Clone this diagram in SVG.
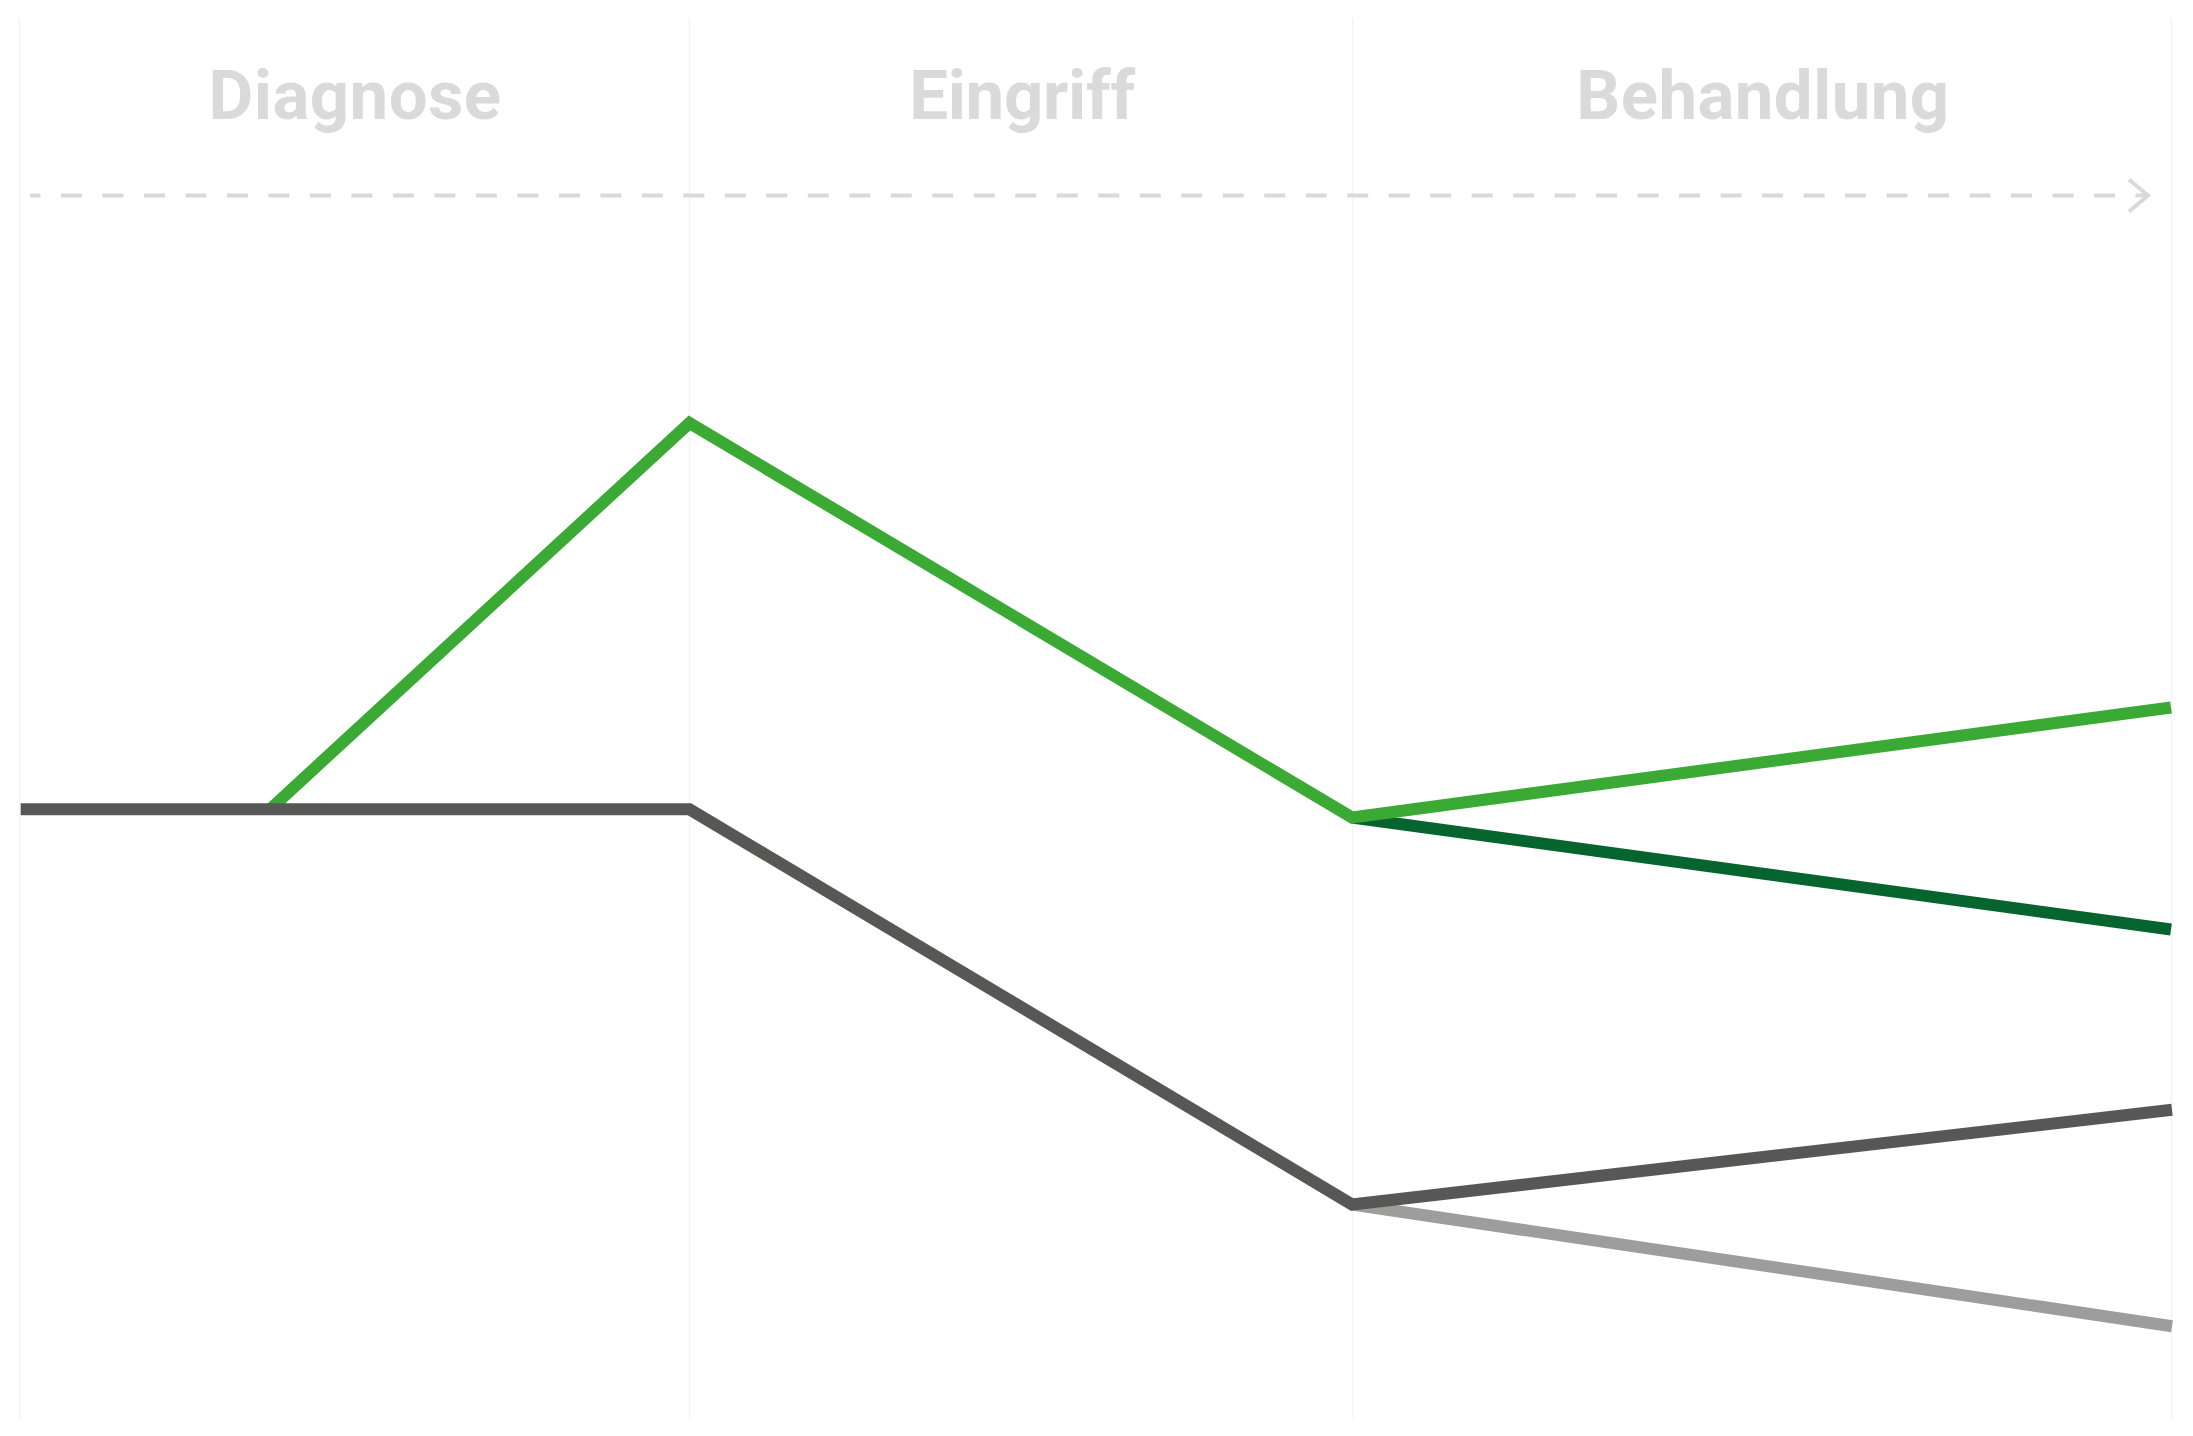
<svg xmlns="http://www.w3.org/2000/svg" width="2193" height="1436" viewBox="0 0 2193 1436">
  <style>
    .divider { stroke: #f3f3f3; stroke-width: 1.5; fill: none; }
    .label { font-family: Roboto, "Liberation Sans", Arial, sans-serif; font-weight: bold; font-size: 69px; fill: #dadada; text-anchor: middle; }
    .timeline { stroke: #d9d9d9; stroke-width: 4; fill: none; stroke-dasharray: 21 20.49; stroke-dashoffset: 10.5; }
    .path { fill: none; stroke-width: 12; stroke-linecap: butt; stroke-linejoin: miter; stroke-miterlimit: 10; }
    .green { stroke: #3aaa35; }
    .darkgreen { stroke: #06652f; }
    .gray { stroke: #575756; }
    .lightgray { stroke: #9d9d9c; }
  </style>
  <defs>
    <marker id="chevron" markerUnits="userSpaceOnUse" viewBox="-24 -20 28 40" refX="0" refY="0" markerWidth="28" markerHeight="40" orient="auto" overflow="visible">
      <path d="M-19,-16 L0,0 L-19,16" fill="none" stroke="#d9d9d9" stroke-width="4" stroke-dasharray="none" stroke-linejoin="miter"/>
    </marker>
  </defs>
  <rect width="2193" height="1436" fill="#ffffff"/>
  <g id="dividers">
    <line class="divider" x1="19.5" y1="18" x2="19.5" y2="1418"/>
    <line class="divider" x1="689.5" y1="18" x2="689.5" y2="1418"/>
    <line class="divider" x1="1352.5" y1="18" x2="1352.5" y2="1418"/>
    <line class="divider" x1="2171.5" y1="18" x2="2171.5" y2="1418"/>
  </g>
  <g id="phase-diagnose">
    <text class="label" x="355" y="119.3" letter-spacing="0.4">Diagnose</text>
  </g>
  <g id="phase-eingriff">
    <text class="label" x="1022" y="119.3" letter-spacing="-0.3">Eingriff</text>
  </g>
  <g id="phase-behandlung">
    <text class="label" x="1763" y="119.3" letter-spacing="0.4">Behandlung</text>
  </g>
  <g id="connectors">
    <line id="timeline" class="timeline" x1="30" y1="195.5" x2="2148" y2="195.5" marker-end="url(#chevron)"/>
    <polyline id="darkgreen-branch" class="path darkgreen" points="1352,817.5 2171,929.5"/>
    <polyline id="green-path" class="path green" points="270,809.3 689.5,423 1352,817.5 2171,707.5"/>
    <polyline id="lightgray-branch" class="path lightgray" points="1352,1204.5 2172,1326.2"/>
    <polyline id="gray-path" class="path gray" points="20.7,809.3 689.5,809.3 1352,1204.5 2172,1109.8"/>
  </g>
</svg>
